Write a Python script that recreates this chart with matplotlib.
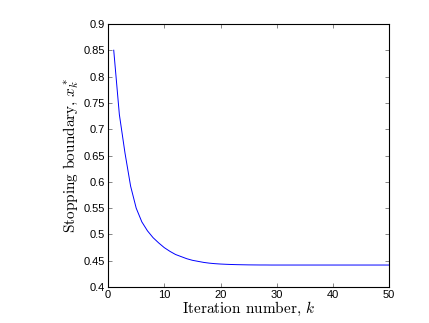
import matplotlib
matplotlib.use('Agg')
import matplotlib.pyplot as plt

# stopping boundary x_k^*, k = 1..50
k = list(range(1, 51))
xstar = [0.850, 0.728, 0.655, 0.592, 0.550, 0.524, 0.507, 0.494, 0.484, 0.475,
         0.468, 0.462, 0.458, 0.454, 0.451, 0.449, 0.447, 0.4456, 0.4446, 0.4439,
         0.4434, 0.4430, 0.4427, 0.4425, 0.4423, 0.4422, 0.4421, 0.4421, 0.4420, 0.4420,
         0.4420, 0.4420, 0.4420, 0.4420, 0.4420, 0.4420, 0.4420, 0.4420, 0.4420, 0.4420,
         0.4420, 0.4420, 0.4420, 0.4420, 0.4420, 0.4420, 0.4420, 0.4420, 0.4420, 0.4420]

xticks = [0, 10, 20, 30, 40, 50]
yticks = [0.4, 0.45, 0.5, 0.55, 0.6, 0.65, 0.7, 0.75, 0.8, 0.85, 0.9]
yticklabels = ['0.4', '0.45', '0.5', '0.55', '0.6', '0.65', '0.7', '0.75', '0.8', '0.85', '0.9']

plt.rcParams['mathtext.fontset'] = 'cm'
plt.rcParams['font.family'] = 'Liberation Sans'

fig = plt.figure(figsize=(4.29, 3.23), dpi=100)
ax = fig.add_axes([0.252, 0.111, 0.655, 0.815])
ax.plot(k, xstar, color='#0000ff', lw=0.7)
ax.set_xlim(0, 50)
ax.set_ylim(0.4, 0.9)
ax.set_xticks(xticks)
ax.set_yticks(yticks)
ax.set_yticklabels(yticklabels)
ax.tick_params(direction='in', top=True, right=True, labelsize=8, length=3, width=0.5,
               pad=2, color='#555555')
for s in ax.spines.values():
    s.set_linewidth(0.8)
ax.set_xlabel('Iteration number, $k$', fontsize=11, labelpad=0, fontfamily='cmr10')
ax.set_ylabel('Stopping boundary, $x_k^*$', fontsize=11, labelpad=2, fontfamily='cmr10')

fig.savefig('out.png', dpi=100)
